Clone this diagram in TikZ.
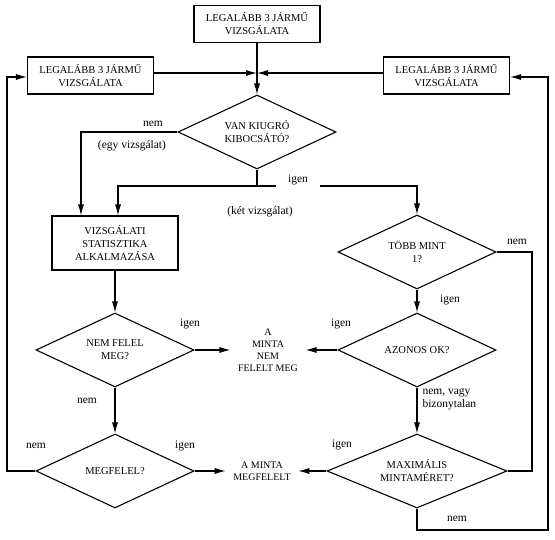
\documentclass[tikz,border=0pt]{standalone}
\usepackage{fontspec}
\setmainfont{Liberation Serif}
\usetikzlibrary{shapes.geometric,arrows.meta}
\begin{document}
\begin{tikzpicture}[x=1pt,y=-1pt,
  line width=1.1pt,
  arr/.style={-{Latex[length=11pt,width=6pt]}},
  box/.style={draw, rectangle, minimum width=126pt, minimum height=37pt, inner sep=0pt, align=center, font=\fontsize{10.5}{13}\selectfont},
  dia/.style={draw, diamond, inner sep=0pt, shape aspect=2.2, minimum width=158pt, minimum height=74pt, align=center, font=\fontsize{10.5}{13}\selectfont},
  lbl/.style={font=\fontsize{11.5}{13}\selectfont, inner sep=1pt},
  mid/.style={align=center, inner ysep=0pt, inner xsep=7pt, font=\fontsize{10}{12}\selectfont}]
\useasboundingbox (0,0) rectangle (555,539);

% nodes
\node[box] (top) at (257,24) {LEGALÁBB 3 JÁRMŰ\\VIZSGÁLATA};
\node[box] (lbox) at (90.5,75.5) {LEGALÁBB 3 JÁRMŰ\\VIZSGÁLATA};
\node[box] (rbox) at (446.5,75.5) {LEGALÁBB 3 JÁRMŰ\\VIZSGÁLATA};
\node[dia] (d1) at (257,132) {VAN KIUGRÓ\\KIBOCSÁTÓ?};
\node[box, minimum height=54pt] (stat) at (115,243) {VIZSGÁLATI\\STATISZTIKA\\ALKALMAZÁSA};
\node[dia] (dT) at (417,252) {TÖBB MINT\\1?};
\node[dia] (dN) at (115,350) {NEM FELEL\\MEG?};
\node[dia] (dA) at (417,350) {AZONOS OK?};
\node[dia] (dM) at (115,471) {MEGFELEL?};
\node[dia, minimum width=180pt] (dX) at (417,471) {MAXIMÁLIS\\MINTAMÉRET?};
\node[mid] (m1) at (268,350) {A\\MINTA\\NEM\\FELELT MEG};
\node[mid] (m2) at (262,471) {A MINTA\\MEGFELELT};

% helper coordinates
\coordinate (j) at (257,186);
\coordinate (cj) at (257,73);
\coordinate (kT) at (532,252);
\coordinate (kX) at (532,471);
\coordinate (fl) at (7,471);
\coordinate (fr) at (548,530);

% connectors
\draw[arr] (top.south) -- (d1.north);
\draw[arr] ([yshift=2.5pt]lbox.east) -- (cj);
\draw[arr] ([yshift=2.5pt]rbox.west) -- (cj);
\draw (d1.south) -- (j);
\draw[arr] (j) -| ([xshift=3pt]stat.north);
\draw[arr] (d1.west) -| ([xshift=-34pt]stat.north);
\draw[arr] (j) -| (dT.north);
\draw[arr] (stat.south) -- (dN.north);
\draw[arr] (dN.south) -- (dM.north);
\draw[arr] (dN.east) -- (m1.west);
\draw[arr] (dA.west) -- (m1.east);
\draw[arr] (dT.south) -- (dA.north);
\draw[arr] (dA.south) -- (dX.north);
\draw (dT.east) -- (kT) -- (kX) -- (dX.east);
\draw[arr] (dM.east) -- (m2.west);
\draw[arr] (dX.west) -- (m2.east);
\draw[arr] (dM.west) -- (fl) |- ([yshift=-1.5pt]lbox.west);
\draw[arr] (dX.south) |- (fr) |- ([yshift=-1.5pt]rbox.east);

% labels
\node[lbl] (l1) at (153,124) {nem};
\node[lbl] (l2) at (132,146) {(egy vizsgálat)};
\node[lbl, fill=white, minimum width=44pt, minimum height=16pt] (l3) at (298,180) {igen};
\node[lbl] (l4) at (260,212) {(két vizsgálat)};
\node[lbl] (l5) at (517,242) {nem};
\node[lbl] (l6) at (450,300) {igen};
\node[lbl] (l7) at (190,324) {igen};
\node[lbl] (l8) at (341,324) {igen};
\node[lbl] (l9) at (87,401) {nem};
\node[lbl, align=left, anchor=west] (l10) at (421,399) {nem, vagy\\bizonytalan};
\node[lbl] (l11) at (36,446) {nem};
\node[lbl] (l12) at (185,446) {igen};
\node[lbl] (l13) at (342,445) {igen};
\node[lbl] (l14) at (457,519) {nem};
\end{tikzpicture}
\end{document}
